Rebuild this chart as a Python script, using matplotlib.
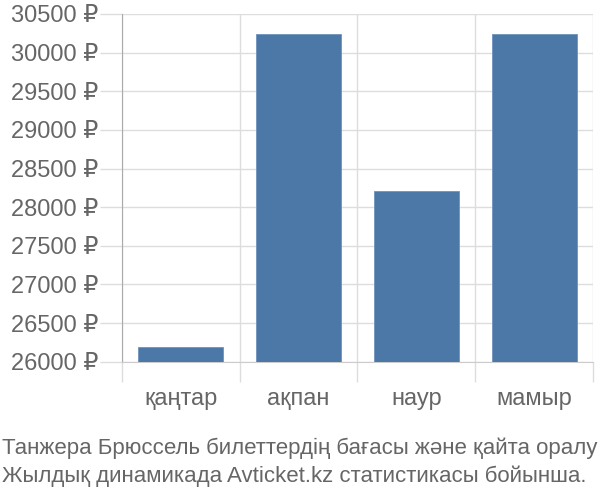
import matplotlib
matplotlib.use("Agg")
import matplotlib.pyplot as plt
from matplotlib.ticker import FixedLocator

categories = ["қаңтар", "ақпан", "наур", "мамыр"]
values = [26190, 30240, 28215, 30240]
yticks = [26000, 26500, 27000, 27500, 28000, 28500, 29000, 29500, 30000, 30500]
ytick_labels = [f"{v} ₽" for v in yticks]
title_lines = ["Танжера Брюссель билеттердің бағасы және қайта оралу",
               "Жылдық динамикада Avticket.kz статистикасы бойынша."]

plt.rcParams['font.family'] = ['Liberation Sans', 'DejaVu Sans']
TXT = "#666666"
GRID = "#dddddd"

fig = plt.figure(figsize=(6, 5), dpi=100)
ax = fig.add_axes([121.7/600, 1 - 361.7/500, (593 - 121.7)/600, (361.7 - 14)/500])

base = yticks[0]
x = list(range(len(categories)))
ax.bar(x, [v - base for v in values], bottom=base, width=0.72,
       color="#4c78a8", edgecolor="#6f93bd", linewidth=0.6, zorder=3)

ax.set_xlim(-0.5, len(categories) - 0.5)
ax.set_ylim(yticks[0], yticks[-1])

ax.set_yticks(yticks)
ax.set_yticklabels(ytick_labels)
ax.set_xticks(x)
ax.set_xticklabels(categories)
ax.xaxis.set_minor_locator(FixedLocator([i - 0.5 for i in range(len(categories) + 1)]))

ax.tick_params(axis='y', which='major', length=16, width=1, color=GRID,
               labelsize=17, labelcolor=TXT, pad=1)
ax.tick_params(axis='x', which='major', length=0, labelsize=17, labelcolor=TXT, pad=19)
ax.tick_params(axis='x', which='minor', length=14.5, width=1, color=GRID)

ax.grid(axis='y', which='major', color=GRID, linewidth=1, zorder=0)
ax.grid(axis='x', which='minor', color=GRID, linewidth=1, zorder=0)

for s in ['top', 'right']:
    ax.spines[s].set_visible(False)
ax.spines['bottom'].set_color("#cccccc")
ax.spines['left'].set_color("#aaaaaa")
ax.spines['left'].set_bounds(yticks[0], yticks[-1])
ax.set_axisbelow(True)

fig.text(2/600, 1 - 454/500, title_lines[0], fontsize=16, color=TXT, ha='left', va='baseline')
fig.text(2/600, 1 - 482/500, title_lines[1], fontsize=16, color=TXT, ha='left', va='baseline')

fig.savefig("out.png", dpi=100)
